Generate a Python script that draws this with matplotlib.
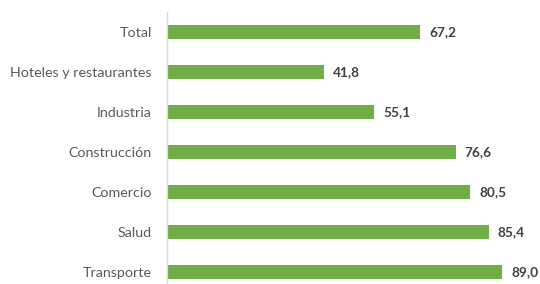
import matplotlib.pyplot as plt

categories = ['Total', 'Hoteles y restaurantes', 'Industria', 'Construcción',
              'Comercio', 'Salud', 'Transporte']
values = [67.2, 41.8, 55.1, 76.6, 80.5, 85.4, 89.0]
labels = ['67,2', '41,8', '55,1', '76,6', '80,5', '85,4', '89,0']

plt.rcParams['font.family'] = ['Lato', 'DejaVu Sans']

fig = plt.figure(figsize=(5.4, 2.84), dpi=100)
ax = fig.add_axes([166.5 / 540, 1 - 292.5 / 284, (530 - 166.5) / 540, 280.5 / 284])

y = range(len(categories))
ax.barh(y, values, height=0.35, color='#70AD47')
ax.set_ylim(-0.5, len(categories) - 0.5)
ax.invert_yaxis()
ax.set_xlim(0, 96.3)

for yi, v, lab in zip(y, values, labels):
    ax.annotate(lab, (v, yi), xytext=(6.5, 0), textcoords='offset points',
                va='center', ha='left', fontsize=9.8, fontweight='bold', color='#404040')

ax.set_yticks(list(y))
ax.set_yticklabels(categories, fontsize=10.3, color='#595959')
ax.tick_params(axis='y', length=0, pad=10.5)
ax.set_xticks([])
for s in ['top', 'right', 'bottom']:
    ax.spines[s].set_visible(False)
ax.spines['left'].set_color('#D9D9D9')
ax.spines['left'].set_linewidth(1)

fig.savefig('out.png', dpi=100)
